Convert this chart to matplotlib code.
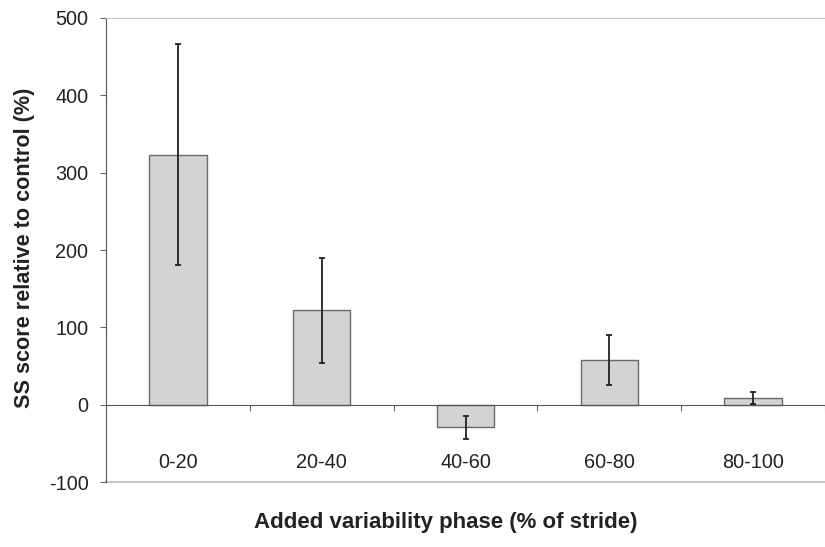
import matplotlib
matplotlib.use("Agg")
import matplotlib.pyplot as plt
import numpy as np

plt.rcParams['font.family'] = ['Liberation Sans', 'DejaVu Sans']
plt.rcParams['axes.unicode_minus'] = False

# data
phases = ['0-20', '20-40', '40-60', '60-80', '80-100']
ss_score = [323, 122, -29.5, 58, 9]
ss_err = [143, 68, 14.5, 32, 7.5]

txt = '#222222'

fig = plt.figure(figsize=(8.25, 5.47), dpi=100)
# plot area runs off the right edge of the picture like the original
ax = fig.add_axes([106/825, 65/547, 719/825, 464/547])

x = np.arange(len(phases))
ax.bar(x, ss_score, width=0.4, color='#d3d3d3', edgecolor='#6a6a6a', linewidth=1.0, zorder=2)
ax.errorbar(x, ss_score, yerr=ss_err, fmt='none', ecolor='#222222',
            elinewidth=1.3, capsize=2.5, capthick=1.3, zorder=3)

ax.set_ylim(-100, 500)
ax.set_xlim(-0.5, -0.5 + 719/146.5)
ax.set_yticks(np.arange(-100, 501, 100))

# category axis crosses at zero
ax.spines['bottom'].set_position(('data', 0))
ax.spines['bottom'].set_color('#555555')
ax.spines['left'].set_color('#555555')
ax.spines['right'].set_visible(False)
ax.spines['top'].set_color('#c8c8c8')
ax.axhline(-100, color='#c8c8c8', linewidth=1.5, clip_on=False, zorder=1)

ax.set_xticks(np.arange(len(phases)) + 0.5)
ax.set_xticklabels([])
ax.tick_params(axis='x', which='major', direction='out', length=4.5, color='#666666')
ax.set_xticks(x, minor=True)
ax.set_xticklabels(phases, minor=True)
ax.tick_params(axis='x', which='minor', length=0, pad=35, labelsize=14.3, labelcolor=txt)
ax.tick_params(axis='y', direction='out', length=4.6, color='#666666', pad=8,
               labelsize=14.3, labelcolor=txt)

ax.set_ylabel('SS score relative to control (%)', fontsize=15.6, fontweight='bold',
              color=txt, va='center')
ax.yaxis.set_label_coords(-0.113, 0.505)
ax.set_xlabel('Added variability phase (% of stride)', fontsize=16, fontweight='bold',
              color=txt, va='center')
ax.xaxis.set_label_coords(0.473, -0.088)

fig.savefig('out.png', dpi=100)
